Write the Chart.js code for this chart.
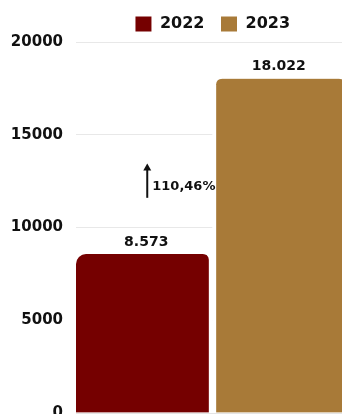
<!DOCTYPE html>
<html>
<head>
<meta charset="utf-8">
<script src="https://cdn.jsdelivr.net/npm/chart.js@4.4.1/dist/chart.umd.min.js"></script>
<style>
html,body{margin:0;padding:0;overflow:hidden;background:#fff;width:342px;height:414px;}
#wrap{position:absolute;left:0;top:0;width:349px;height:435px;}
</style>
</head>
<body>
<div id="wrap"><canvas id="c"></canvas></div>
<script>
const categories = [''];
const seriesNames = ['2022', '2023'];
const values2022 = [8573];
const values2023 = [18022];
const seriesColors = ['#750000', '#A87A38'];
const yTicks = [0, 5000, 10000, 15000, 20000];
const growthText = '110,46%';
const growthFrom = 11600;
const growthTo = 13450;

const FONT = "'DejaVu Sans', sans-serif";

function fmtDE(v) {
  return String(v).replace(/\B(?=(\d{3})+(?!\d))/g, '.');
}

const valueLabels = {
  id: 'valueLabels',
  afterDatasetsDraw(chart) {
    const ctx = chart.ctx;
    ctx.save();
    ctx.font = "bold 14px " + FONT;
    ctx.fillStyle = '#111';
    ctx.textAlign = 'center';
    ctx.textBaseline = 'bottom';
    chart.data.datasets.forEach((ds, i) => {
      const meta = chart.getDatasetMeta(i);
      meta.data.forEach((bar, j) => {
        const b = bar.getProps(['x', 'y', 'base', 'width'], true);
        const off = i === 0 ? 2 : -2;
        ctx.fillText(fmtDE(ds.data[j]), b.x + off, b.y - 5);
      });
    });
    // growth annotation
    const bar0 = chart.getDatasetMeta(0).data[0].getProps(['x', 'width'], true);
    const y = chart.scales.y;
    const ax = bar0.x + 3;
    const yTop = y.getPixelForValue(growthTo);
    const yBot = y.getPixelForValue(growthFrom);
    ctx.strokeStyle = '#111';
    ctx.fillStyle = '#111';
    ctx.lineWidth = 2;
    ctx.beginPath();
    ctx.moveTo(ax, yBot);
    ctx.lineTo(ax, yTop + 4);
    ctx.stroke();
    ctx.beginPath();
    ctx.moveTo(ax, yTop);
    ctx.lineTo(ax - 4, yTop + 7);
    ctx.lineTo(ax + 4, yTop + 7);
    ctx.closePath();
    ctx.fill();
    ctx.font = "bold 13px " + FONT;
    ctx.textAlign = 'left';
    ctx.textBaseline = 'middle';
    ctx.fillText(growthText, ax + 5, (yTop + yBot) / 2 + 6);
    ctx.restore();
  }
};

new Chart(document.getElementById('c'), {
  type: 'bar',
  data: {
    labels: categories,
    datasets: [
      {
        label: seriesNames[0],
        data: values2022,
        backgroundColor: seriesColors[0],
        borderColor: '#ffffff',
        borderWidth: {left: 0, right: 4, top: 0, bottom: 0},
        borderRadius: {topLeft: 10, topRight: 10, bottomLeft: 0, bottomRight: 0},
        borderSkipped: 'bottom'
      },
      {
        label: seriesNames[1],
        data: values2023,
        backgroundColor: seriesColors[1],
        borderColor: '#ffffff',
        borderWidth: {left: 4, right: 0, top: 0, bottom: 0},
        borderRadius: {topLeft: 10, topRight: 10, bottomLeft: 0, bottomRight: 0},
        borderSkipped: 'bottom'
      }
    ]
  },
  options: {
    responsive: true,
    maintainAspectRatio: false,
    animation: false,
    layout: {padding: {top: 0, right: 0, bottom: 0, left: 0}},
    datasets: {bar: {categoryPercentage: 1, barPercentage: 1}},
    plugins: {
      legend: {
        position: 'top',
        fullSize: false,
        align: 'center',
        labels: {
          boxWidth: 17,
          boxHeight: 16,
          padding: 16,
          color: '#111',
          font: {family: FONT, size: 16, weight: 'bold'}
        }
      },
      tooltip: {enabled: false},
      title: {display: false}
    },
    scales: {
      x: {
        grid: {display: false, drawTicks: false},
        border: {display: true, color: '#e4e4e4', width: 1},
        ticks: {display: false}
      },
      y: {
        min: 0,
        max: 20000,
        afterBuildTicks(scale) { scale.ticks = yTicks.map(v => ({value: v})); },
        afterFit(scale) { scale.width = 76; },
        grid: {color: '#e8e8e8', drawTicks: false, lineWidth: 1},
        border: {display: false},
        ticks: {
          padding: 13,
          color: '#111',
          font: {family: FONT, size: 15, weight: 'bold'},
          callback: v => String(v)
        }
      }
    }
  },
  plugins: [valueLabels]
});
</script>
</body>
</html>
